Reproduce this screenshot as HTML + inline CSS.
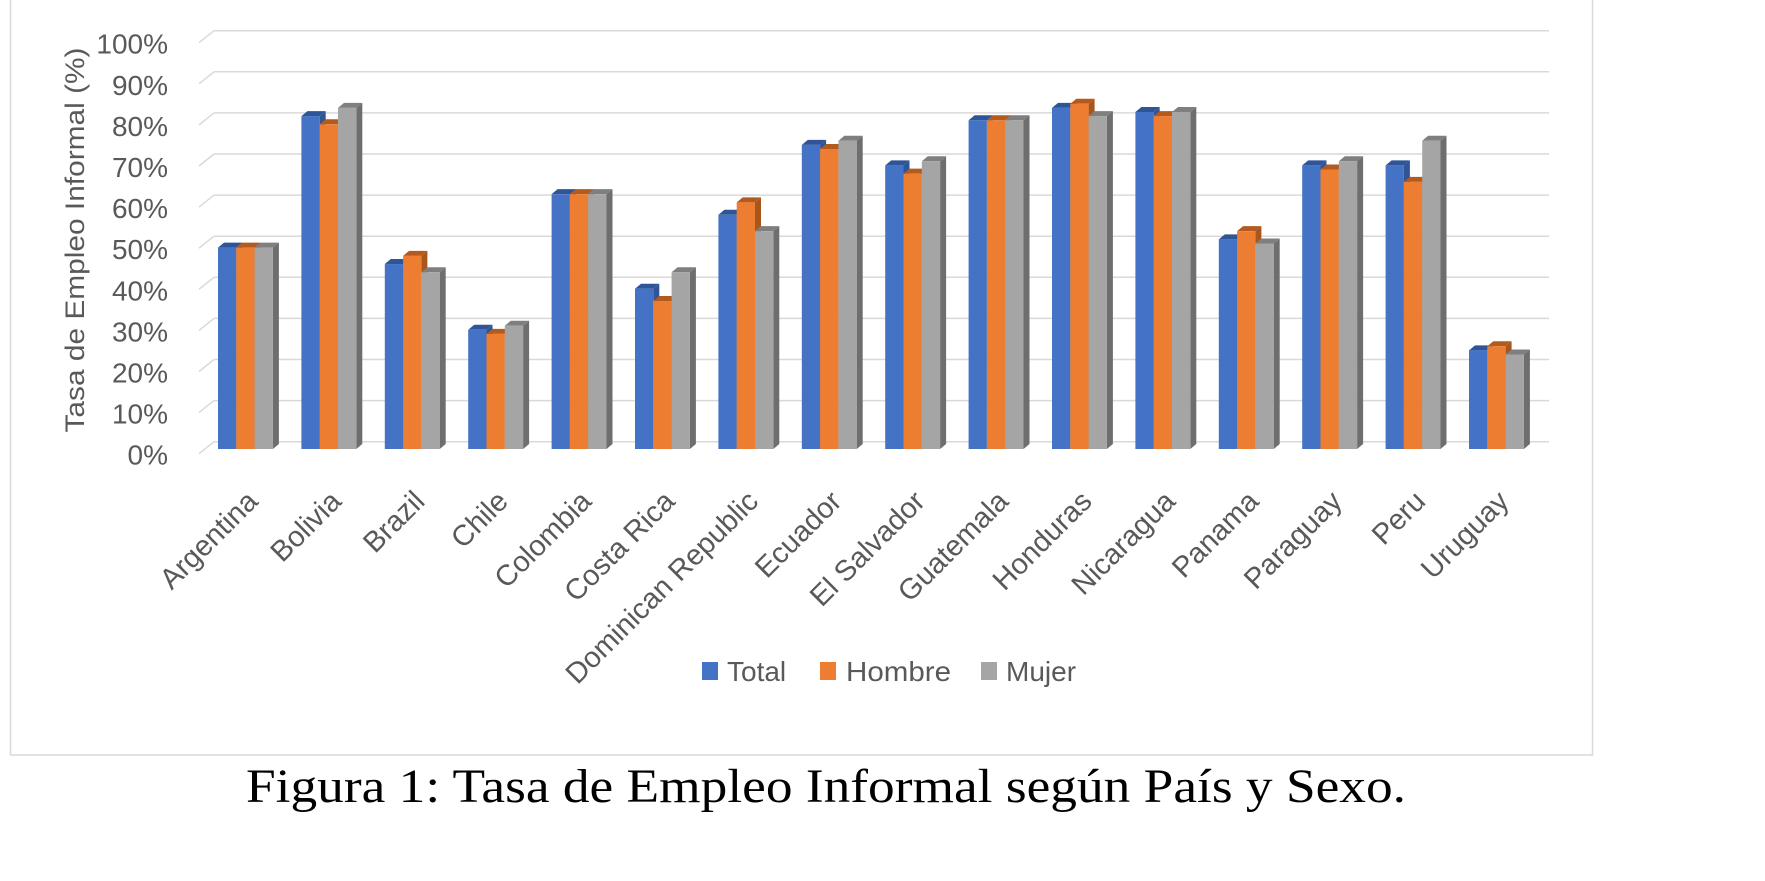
<!DOCTYPE html>
<html><head><meta charset="utf-8"><style>
html,body{margin:0;padding:0;background:#fff;}
svg{display:block;}
text{font-family:"Liberation Sans",sans-serif;}
</style></head><body>
<svg id="chart" width="1765" height="881" viewBox="0 0 1765 881" xmlns="http://www.w3.org/2000/svg">
<rect x="10.5" y="-1" width="1582" height="756" fill="#fff" stroke="#d9d9d9" stroke-width="1.5"/>
<g id="grid"></g>
<g id="ylabels"></g>
<text transform="translate(84,240) rotate(-90)" text-anchor="middle" font-size="27" textLength="385" lengthAdjust="spacingAndGlyphs" fill="#595959">Tasa de Empleo Informal (%)</text>
<g id="bars"></g>
<g id="xlabels"></g>
<g>
<g><rect x="702" y="662" width="16" height="18" fill="#4472c4"/><text x="727" y="681" font-size="28" fill="#595959">Total</text></g>
<g><rect x="820" y="662" width="16" height="18" fill="#ed7d31"/><text x="846" y="681" font-size="28" textLength="105" lengthAdjust="spacingAndGlyphs" fill="#595959">Hombre</text></g>
<g><rect x="981" y="662" width="16" height="18" fill="#a5a5a5"/><text x="1006" y="681" font-size="28" fill="#595959">Mujer</text></g>
</g>
<text x="246" y="802" font-size="48" textLength="1160" lengthAdjust="spacingAndGlyphs" fill="#000" style="font-family:'Liberation Serif',serif">Figura 1: Tasa de Empleo Informal según País y Sexo.</text>
</svg>
<script>
const categories = ["Argentina","Bolivia","Brazil","Chile","Colombia","Costa Rica","Dominican Republic","Ecuador","El Salvador","Guatemala","Honduras","Nicaragua","Panama","Paraguay","Peru","Uruguay"];
const totalValues = [49,81,45,29,62,39,57,74,69,80,83,82,51,69,69,24];
const hombreValues = [49,79,47,28,62,36,60,73,67,80,84,81,53,68,65,25];
const mujerValues = [49,83,43,30,62,43,53,75,70,80,81,82,50,70,75,23];
const yTicks = [0,10,20,30,40,50,60,70,80,90,100];
const yTickLabels = ["0%","10%","20%","30%","40%","50%","60%","70%","80%","90%","100%"];

const NS = "http://www.w3.org/2000/svg";
const base = 449, pxPerUnit = 4.11, depthX = 6, depthY = 5;
const backBase = 441.7;
function yFront(v){ return base - v*pxPerUnit; }
function yBack(v){ return backBase - v*pxPerUnit; }
function groupX(i){ return 218 + i*83.4; }
const barW = 18.3;
function mk(tag, attrs){ const e=document.createElementNS(NS,tag); for(const k in attrs) e.setAttribute(k,attrs[k]); return e; }

const grid = document.getElementById('grid');
const yl = document.getElementById('ylabels');
yTicks.forEach((t,i)=>{
  const yb = yBack(t);
  const l = mk('line',{x1:214,y1:yb,x2:1549,y2:yb,stroke:'#d9d9d9','stroke-width':1.5});
  
  
  grid.appendChild(l);
  const d = mk('line',{x1:199,y1:yb+12,x2:214,y2:yb,stroke:'#d9d9d9','stroke-width':1.5});
  
  
  grid.appendChild(d);
  const tx = mk('text',{x:168,y:yb+23,'text-anchor':'end','font-size':28,fill:'#595959'});
  tx.textContent = yTickLabels[i];
  
  
  yl.appendChild(tx);
});

const series = [
  {vals: totalValues, front:'#4472c4', top:'#2f5597', side:'#2f5597', name:'total'},
  {vals: hombreValues, front:'#ed7d31', top:'#b35a1f', side:'#a9561c', name:'hombre'},
  {vals: mujerValues, front:'#a5a5a5', top:'#7f7f7f', side:'#6e6e6e', name:'mujer'}
];
const bars = document.getElementById('bars');
categories.forEach((c,i)=>{
  series.forEach((s,j)=>{
    const x = groupX(i) + j*barW;
    const y = yFront(s.vals[i]);
    const g = mk('g',{});
    
    
    g.appendChild(mk('polygon',{points:`${x+barW},${y} ${x+barW+depthX},${y-depthY} ${x+barW+depthX},${base-depthY} ${x+barW},${base}`,fill:s.side}));
    g.appendChild(mk('polygon',{points:`${x},${y} ${x+depthX},${y-depthY} ${x+barW+depthX},${y-depthY} ${x+barW},${y}`,fill:s.top}));
    g.appendChild(mk('rect',{x:x,y:y,width:barW,height:base-y,fill:s.front}));
    bars.appendChild(g);
  });
  const cx = groupX(i) + 1.5*barW + 14;
  const t = mk('text',{x:0,y:0,'text-anchor':'end','font-size':29,fill:'#595959',transform:`translate(${cx},503) rotate(-45)`});
  t.textContent = c;
  
  
  document.getElementById('xlabels').appendChild(t);
});
</script>
</body></html>
